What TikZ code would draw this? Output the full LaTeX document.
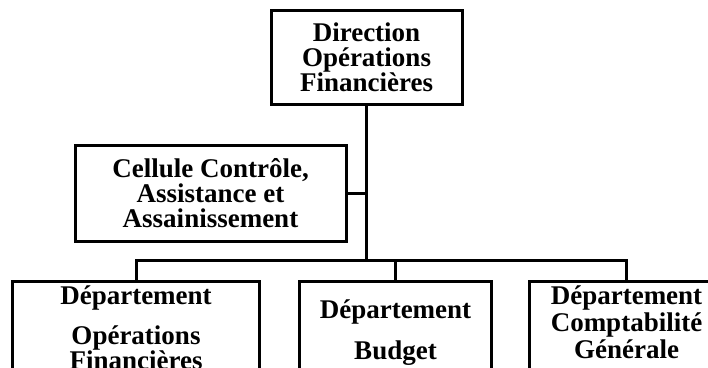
\documentclass[tikz,border=0pt]{standalone}
\usepackage{fontspec}
\setmainfont{Liberation Serif}
\usetikzlibrary{positioning}

\tikzset{
  unit/.style={draw, line width=3pt, inner sep=0pt, align=center,
    font=\fontsize{27}{25}\selectfont\bfseries},
  dept/.style={unit, anchor=north west, text depth=120pt},
  link/.style={line width=3pt}
}

\begin{document}
\begin{tikzpicture}[x=1pt,y=-1pt]
\useasboundingbox (0,0) rectangle (708,367);
\clip (0,0) rectangle (708,367);

% direction and cell
\node[unit, minimum width=191, minimum height=94] (dof) at (366.5,57)
  {Direction\\Opérations\\Financières};
\node[unit, minimum width=271, minimum height=96] (cca) at (210.5,193)
  {Cellule Contrôle,\\Assistance et\\Assainissement};

% departments (cut off at the bottom)
\node[dept, text width=247, text height=23pt] (dop) at (11,280)
  {Département\\[15pt]Opérations\\Financières};
\node[dept, text width=192, text height=37pt] (dbu) at (298,280)
  {Département\\[16pt]Budget};
\node[dept, text width=194, text height=23pt] (dcg) at (528,280)
  {Département\\[2pt]Comptabilité\\[2pt]Générale};

% links
\coordinate (fork) at (dof.south |- 0,260);
\draw[link] (dof.south) -- (fork);
\draw[link] (cca.east) -- (cca.east -| fork);
\draw[link] (dop.north) -- ++(0,-20) -| (dcg.north);
\draw[link] (dbu.north) -- (dbu.north |- fork);
\end{tikzpicture}
\end{document}
